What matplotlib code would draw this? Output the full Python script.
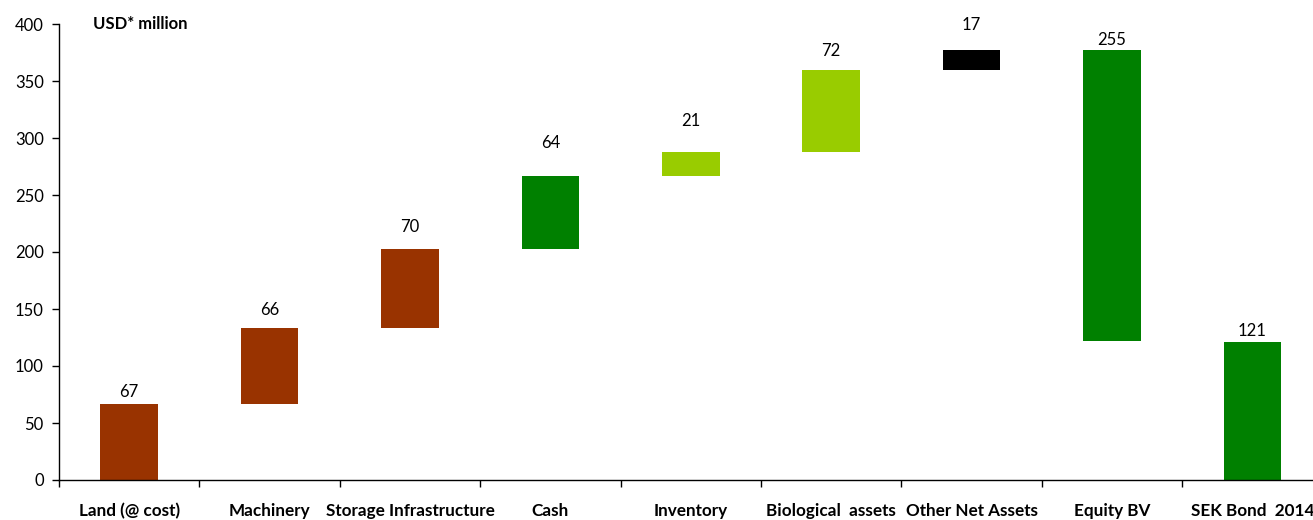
import numpy as np
import matplotlib.pyplot as plt
from matplotlib.ticker import FixedLocator, NullFormatter

plt.rcParams['font.family'] = ['Lato', 'DejaVu Sans']

categories = ['Land (@ cost)', 'Machinery', 'Storage Infrastructure', 'Cash',
              'Inventory', 'Biological  assets', 'Other Net Assets',
              'Equity BV', 'SEK Bond  2014']
values = [67, 66, 70, 64, 21, 72, 17, 255, 121]
# +1 adds to the running total, -1 takes away, 0 is a total drawn from zero
steps = [1, 1, 1, 1, 1, 1, 1, -1, 0]
colors = ['#993300', '#993300', '#993300', '#008000', '#99cc00',
          '#99cc00', '#000000', '#008000', '#008000']
# gap between bar top and its value label, in axis units
label_gap = [10, 16, 19, 29, 27, 16, 22, 9, 10]

bottoms = []
tops = []
run = 0
for v, s in zip(values, steps):
    if s == 1:
        bottoms.append(run)
        run += v
        tops.append(run)
    elif s == -1:
        tops.append(run)
        run -= v
        bottoms.append(run)
    else:
        bottoms.append(0)
        tops.append(v)

fig = plt.figure(figsize=(13.13, 5.2), dpi=100)
ax = fig.add_axes([59 / 1313, 40 / 520, 9 * 140.4 / 1313, 456 / 520])

x = np.arange(len(categories)) + 0.5
heights = np.array(tops) - np.array(bottoms)
ax.bar(x, heights, bottom=bottoms, width=0.41, color=colors)

for xi, top, v, g in zip(x, tops, values, label_gap):
    ax.text(xi, top + g, str(v), ha='center', va='center', fontsize=12)

ax.set_xlim(0, 9)
ax.set_ylim(0, 400)
ax.set_yticks(np.arange(0, 401, 50))

ax.xaxis.set_major_locator(FixedLocator(np.arange(0, 10)))
ax.xaxis.set_major_formatter(NullFormatter())
ax.xaxis.set_minor_locator(FixedLocator(x))
ax.set_xticklabels(categories, minor=True, fontweight='bold', fontsize=12.3)
ax.tick_params(axis='x', which='major', length=5, width=1, direction='out')
ax.tick_params(axis='x', which='minor', length=0, pad=16.5)
ax.tick_params(axis='y', length=5, width=1, labelsize=12, pad=6)

for side in ['top', 'right']:
    ax.spines[side].set_visible(False)
for side in ['left', 'bottom']:
    ax.spines[side].set_linewidth(1)

ax.text(0.24, 400, 'USD* million', fontweight='bold', fontsize=12,
        ha='left', va='center')

fig.savefig('out.png', dpi=100)
